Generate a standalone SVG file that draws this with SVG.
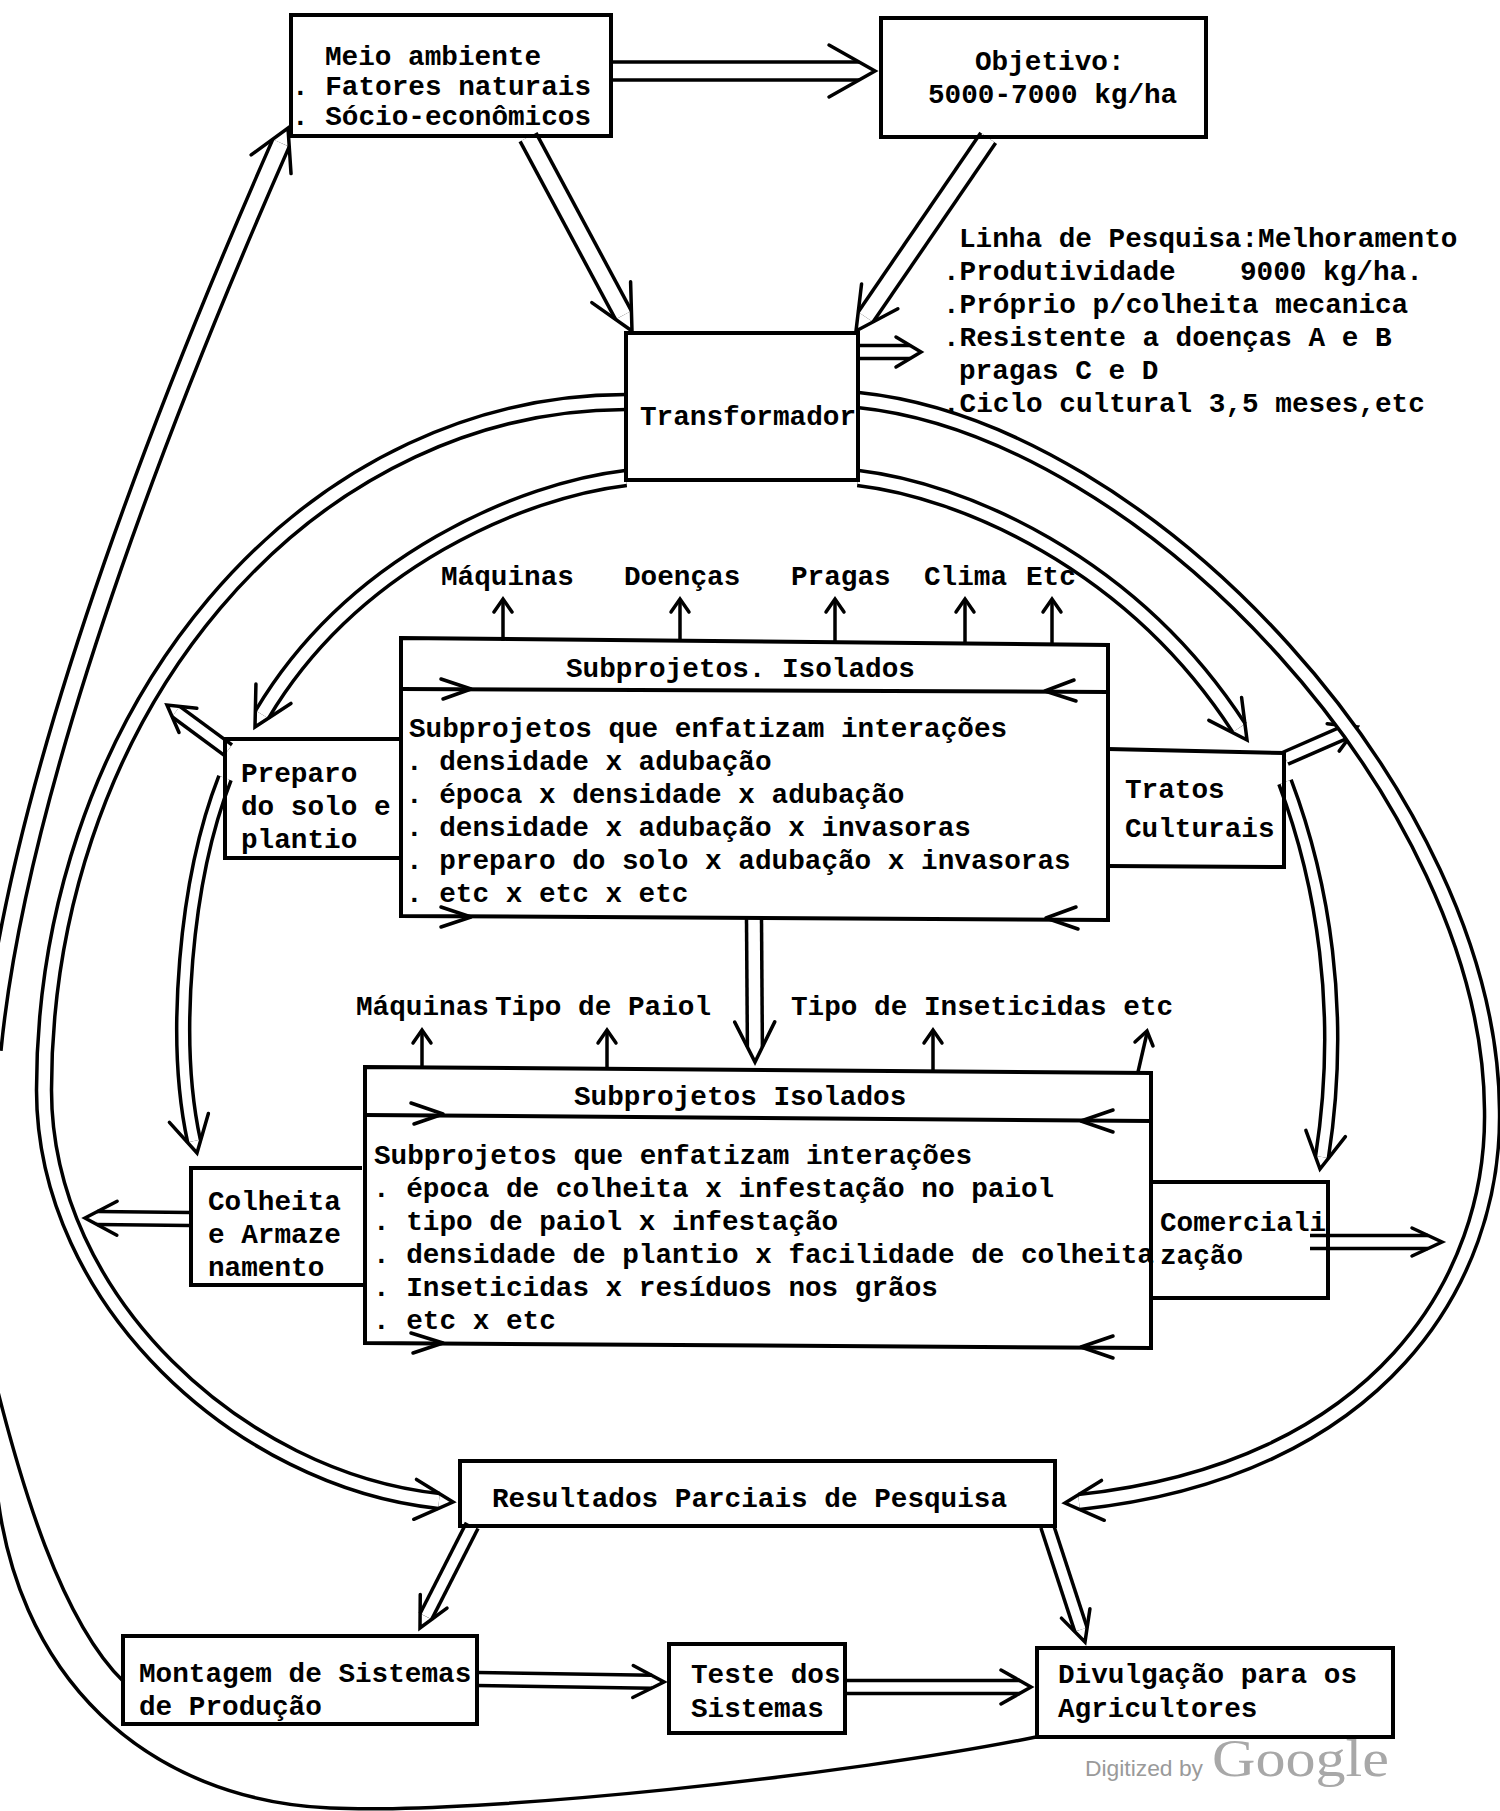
<svg xmlns="http://www.w3.org/2000/svg" width="1500" height="1811" viewBox="0 0 1500 1811">
<style>
text { font-family: "Liberation Mono", "DejaVu Sans Mono", monospace; font-weight: bold; font-size: 27.7px; fill: #000; }
.box { fill: none; stroke: #000; stroke-width: 4; }
.ln { fill: none; stroke: #000; stroke-width: 4; }
.sl { fill: none; stroke: #000; stroke-width: 3.5; }
.hd { fill: none; stroke: #000; stroke-width: 3.5; stroke-linejoin: miter; stroke-linecap: round; }
.o18 { fill: none; stroke: #000; stroke-width: 21.5; }
.i18 { fill: none; stroke: #fff; stroke-width: 14.5; }
.o15 { fill: none; stroke: #000; stroke-width: 18.5; }
.i15 { fill: none; stroke: #fff; stroke-width: 11.5; }
.o13 { fill: none; stroke: #000; stroke-width: 16.5; }
.i13 { fill: none; stroke: #fff; stroke-width: 9.5; }
.chev { fill: none; stroke: #000; stroke-width: 3.5; stroke-linecap: round; stroke-linejoin: round; }
.wm1 { font-family: "Liberation Sans", Arial, sans-serif; font-weight: normal; font-size: 22px; fill: #9a9a9a; }
.wm2 { font-family: "Liberation Serif", "Times New Roman", serif; font-weight: normal; font-size: 52px; fill: #a8a8a8; }
</style>
<rect x="0" y="0" width="1500" height="1811" fill="#fff"/>

<g id="labels">
  <text x="441" y="585">Máquinas</text>
  <text x="624" y="585">Doenças</text>
  <text x="791" y="585">Pragas</text>
  <text x="924" y="585">Clima</text>
  <text x="1026" y="585">Etc</text>
  <text x="356" y="1015">Máquinas</text>
  <text x="495" y="1015">Tipo de Paiol</text>
  <text x="791" y="1015">Tipo de Inseticidas etc</text>
</g>

<g id="n-linha">
  <text x="959" y="247">Linha de Pesquisa:Melhoramento</text>
  <text x="943" y="280">.Produtividade</text>
  <text x="1240" y="280">9000 kg/ha.</text>
  <text x="943" y="313">.Próprio p/colheita mecanica</text>
  <text x="943" y="346">.Resistente a doenças A e B</text>
  <text x="959" y="379">pragas C e D</text>
  <text x="943" y="412">.Ciclo cultural 3,5 meses,etc</text>
</g>

<g id="connectors">
  <!-- Meio -> Objetivo -->
  <g transform="translate(875 71)"><path class="o18" d="M-264,0 H-16"/><path class="i18" d="M-264,0 H-16"/><path class="hd" d="M-46,-26 L0,0 L-46,26"/></g>
  <!-- Meio -> Transformador -->
  <g transform="translate(632 331) rotate(61.8)"><path class="o18" d="M-220,0 H-18"/><path class="i18" d="M-220,0 H-18"/><path class="hd" d="M-44,-22 L0,0 L-44,22"/></g>
  <!-- Objetivo -> Transformador -->
  <g transform="translate(856 331) rotate(124.4)"><path class="o18" d="M-234,0 H-17"/><path class="i18" d="M-234,0 H-17"/><path class="hd" d="M-42,-22 L0,0 L-42,22"/></g>
  <!-- Transformador -> Linha de Pesquisa -->
  <g transform="translate(921 352)"><path class="o13" d="M-63,0 H-11"/><path class="i13" d="M-63,0 H-11"/><path class="hd" d="M-25,-15 L0,0 L-25,15"/></g>
  <!-- Subprojetos 1 -> Subprojetos 2 -->
  <g transform="translate(755 1062) rotate(89.6)"><path class="o15" d="M-144,0 H-15"/><path class="i15" d="M-144,0 H-15"/><path class="hd" d="M-40,-20 L0,0 L-40,20"/></g>
  <!-- Colheita -> left -->
  <g transform="translate(85 1218) rotate(180.5)"><path class="o13" d="M-105,0 H-12"/><path class="i13" d="M-105,0 H-12"/><path class="hd" d="M-32,-17 L0,0 L-32,17"/></g>
  <!-- Comercializacao -> right -->
  <g transform="translate(1442 1242)"><path class="o13" d="M-132,0 H-14"/><path class="i13" d="M-132,0 H-14"/><path class="hd" d="M-30,-14 L0,0 L-30,14"/></g>
  <!-- Resultados -> Montagem -->
  <g transform="translate(420 1628) rotate(117)"><path class="o13" d="M-115,0 H-13"/><path class="i13" d="M-115,0 H-13"/><path class="hd" d="M-30,-15 L0,0 L-30,15"/></g>
  <!-- Resultados -> Divulgacao -->
  <g transform="translate(1085 1642) rotate(71.9)"><path class="o13" d="M-122,0 H-13"/><path class="i13" d="M-122,0 H-13"/><path class="hd" d="M-30,-15 L0,0 L-30,15"/></g>
  <!-- Montagem -> Teste -->
  <g transform="translate(664 1682) rotate(0.9)"><path class="o13" d="M-187,0 H-12"/><path class="i13" d="M-187,0 H-12"/><path class="hd" d="M-31,-16 L0,0 L-31,16"/></g>
  <!-- Teste -> Divulgacao -->
  <g transform="translate(1031 1687)"><path class="o13" d="M-185,0 H-11"/><path class="i13" d="M-185,0 H-11"/><path class="hd" d="M-30,-17 L0,0 L-30,17"/></g>
  <!-- Preparo -> up-left -->
  <g transform="translate(167 705) rotate(216.4)"><path class="o13" d="M-76,0 H-11"/><path class="i13" d="M-76,0 H-11"/><path class="hd" d="M-26,-15 L0,0 L-26,15"/></g>
  <!-- Tratos -> up-right -->
  <g transform="translate(1357 727) rotate(-23.6)"><path class="o13" d="M-78,0 H-11"/><path class="i13" d="M-78,0 H-11"/><path class="hd" d="M-26,-15 L0,0 L-26,15"/></g>

  <!-- Transformador -> Resultados (outer left arc) -->
  <path class="o15" d="M626,402 A582,688 0 0 0 44,1090 C44,1300 240,1480 439,1501"/>
  <path class="i15" d="M626,402 A582,688 0 0 0 44,1090 C44,1300 240,1480 439,1501"/>
  <path class="hd" transform="translate(453 1502) rotate(4)" d="M-38,-20 L0,0 L-38,20"/>
  <!-- Transformador -> Preparo (inner left arc) -->
  <path class="o15" d="M626,478 C524,490 354,560 262,714.5"/>
  <path class="i15" d="M626,478 C524,490 354,560 262,714.5"/>
  <path class="hd" transform="translate(255 727) rotate(119)" d="M-38,-20 L0,0 L-38,20"/>
  <!-- Preparo -> Colheita -->
  <path class="o13" d="M225,778 C185,880 172,1040 194,1141"/>
  <path class="i13" d="M225,778 C185,880 172,1040 194,1141"/>
  <path class="hd" transform="translate(197 1153) rotate(77)" d="M-36,-20 L0,0 L-36,20"/>
  <!-- Transformador -> Tratos (inner right arc) -->
  <path class="o15" d="M858,478 C960,490 1130,560 1239,728"/>
  <path class="i15" d="M858,478 C960,490 1130,560 1239,728"/>
  <path class="hd" transform="translate(1247 740) rotate(55)" d="M-38,-20 L0,0 L-38,20"/>
  <!-- Transformador -> Resultados (outer right arc) -->
  <path class="o15" d="M858,400 C1150,430 1490,800 1492,1110 C1495,1280 1380,1470 1079,1502"/>
  <path class="i15" d="M858,400 C1150,430 1490,800 1492,1110 C1495,1280 1380,1470 1079,1502"/>
  <path class="hd" transform="translate(1065 1503) rotate(176)" d="M-38,-20 L0,0 L-38,20"/>
  <!-- Tratos -> Comercializacao -->
  <path class="o13" d="M1285,782 C1322,880 1345,1010 1322,1157"/>
  <path class="i13" d="M1285,782 C1322,880 1345,1010 1322,1157"/>
  <path class="hd" transform="translate(1320 1169) rotate(99)" d="M-36,-20 L0,0 L-36,20"/>
  <!-- feedback -> Meio ambiente -->
  <path class="o18" d="M-8,1050 C20,760 190,350 281,143"/>
  <path class="i18" d="M-8,1050 C20,760 190,350 281,143"/>
  <path class="hd" transform="translate(288 128) rotate(-65)" d="M-40,-22 L0,0 L-40,22"/>
  <!-- single feedback lines -->
  <path class="sl" d="M-5,1380 C20,1480 60,1620 124,1682"/>
  <path class="sl" d="M-5,1470 C10,1680 150,1800 330,1808 C480,1815 850,1775 1036,1737"/>

  <!-- small single arrows, upper block -->
  <path class="sl" d="M503,641 V601"/><path class="hd" d="M494,612 L503,599 L512,612"/>
  <path class="sl" d="M680,642 V601"/><path class="hd" d="M671,612 L680,599 L689,612"/>
  <path class="sl" d="M835,643 V601"/><path class="hd" d="M826,612 L835,599 L844,612"/>
  <path class="sl" d="M965,644 V601"/><path class="hd" d="M956,612 L965,599 L974,612"/>
  <path class="sl" d="M1052,645 V601"/><path class="hd" d="M1043,612 L1052,599 L1061,612"/>
  <!-- small single arrows, lower block -->
  <path class="sl" d="M422,1068 V1032"/><path class="hd" d="M413,1043 L422,1030 L431,1043"/>
  <path class="sl" d="M607,1069 V1032"/><path class="hd" d="M598,1043 L607,1030 L616,1043"/>
  <path class="sl" d="M933,1071 V1032"/><path class="hd" d="M924,1043 L933,1030 L942,1043"/>
  <path class="sl" d="M1138,1072 L1147,1033"/><path class="hd" d="M1135,1042 L1147,1031 L1153,1046"/>
</g>

<g id="n-meio">
  <rect class="box" x="291" y="15" width="320" height="121"/>
  <text x="325" y="65">Meio ambiente</text>
  <text x="292" y="95">. Fatores naturais</text>
  <text x="292" y="125">. Sócio-econômicos</text>
</g>

<g id="n-objetivo">
  <rect class="box" x="881" y="18" width="325" height="119"/>
  <text x="975" y="70">Objetivo:</text>
  <text x="928" y="103">5000-7000 kg/ha</text>
</g>

<g id="n-transformador">
  <rect class="box" x="626" y="333" width="232" height="147"/>
  <text x="640" y="425">Transformador</text>
</g>

<g id="n-sub1">
  <path class="ln" d="M401,638 L1108,645 L1108,920 L401,916 Z"/>
  <path class="ln" d="M401,689 L1108,692"/>
  <path class="chev" d="M441,679 L471,689 L443,699"/>
  <path class="chev" d="M1074,680 L1045,691 L1076,701"/>
  <path class="chev" d="M441,907 L471,917 L441,927"/>
  <path class="chev" d="M1076,907 L1046,918 L1078,929"/>
  <text x="566" y="677">Subprojetos. Isolados</text>
  <text x="409" y="737">Subprojetos que enfatizam interações</text>
  <text x="406" y="770">. densidade x adubação</text>
  <text x="406" y="803">. época x densidade x adubação</text>
  <text x="406" y="836">. densidade x adubação x invasoras</text>
  <text x="406" y="869">. preparo do solo x adubação x invasoras</text>
  <text x="406" y="902">. etc x etc x etc</text>
</g>

<g id="n-preparo">
  <rect class="box" x="225" y="739" width="176" height="119"/>
  <text x="241" y="782">Preparo</text>
  <text x="241" y="815">do solo e</text>
  <text x="241" y="848">plantio</text>
</g>

<g id="n-tratos">
  <path class="box" d="M1108,749 L1284,753 L1284,867 L1108,866"/>
  <text x="1125" y="798">Tratos</text>
  <text x="1125" y="837">Culturais</text>
</g>

<g id="n-sub2">
  <path class="ln" d="M365,1067 L1151,1073 L1151,1348 L365,1343 Z"/>
  <path class="ln" d="M365,1115 L1151,1121"/>
  <path class="chev" d="M411,1103 L443,1114 L414,1124"/>
  <path class="chev" d="M1113,1110 L1081,1121 L1113,1132"/>
  <path class="chev" d="M411,1333 L443,1343 L413,1353"/>
  <path class="chev" d="M1113,1336 L1081,1347 L1113,1358"/>
  <text x="574" y="1105">Subprojetos Isolados</text>
  <text x="374" y="1164">Subprojetos que enfatizam interações</text>
  <text x="373" y="1197">. época de colheita x infestação no paiol</text>
  <text x="373" y="1230">. tipo de paiol x infestação</text>
  <text x="373" y="1263">. densidade de plantio x facilidade de colheita</text>
  <text x="373" y="1296">. Inseticidas x resíduos nos grãos</text>
  <text x="373" y="1329">. etc x etc</text>
</g>

<g id="n-colheita">
  <path class="box" d="M362,1168 L191,1168 L191,1285 L365,1285"/>
  <text x="208" y="1210">Colheita</text>
  <text x="208" y="1243">e Armaze</text>
  <text x="208" y="1276">namento</text>
</g>

<g id="n-comercializacao">
  <path class="box" d="M1151,1182 L1328,1182 L1328,1298 L1151,1298"/>
  <text x="1160" y="1231">Comerciali</text>
  <text x="1160" y="1264">zação</text>
</g>

<g id="n-resultados">
  <rect class="box" x="460" y="1461" width="595" height="65"/>
  <text x="492" y="1507">Resultados Parciais de Pesquisa</text>
</g>

<g id="n-montagem">
  <rect class="box" x="123" y="1636" width="354" height="88"/>
  <text x="139" y="1682">Montagem de Sistemas</text>
  <text x="139" y="1715">de Produção</text>
</g>

<g id="n-teste">
  <rect class="box" x="669" y="1644" width="176" height="89"/>
  <text x="691" y="1683">Teste dos</text>
  <text x="691" y="1717">Sistemas</text>
</g>

<g id="n-divulgacao">
  <rect class="box" x="1037" y="1648" width="356" height="89"/>
  <text x="1058" y="1683">Divulgação para os</text>
  <text x="1058" y="1717">Agricultores</text>
</g>

<g id="watermark">
  <text class="wm1" x="1085" y="1776" textLength="118" lengthAdjust="spacingAndGlyphs">Digitized by</text>
  <text class="wm2" x="1212" y="1776" textLength="177" lengthAdjust="spacingAndGlyphs">Google</text>
</g>
</svg>
